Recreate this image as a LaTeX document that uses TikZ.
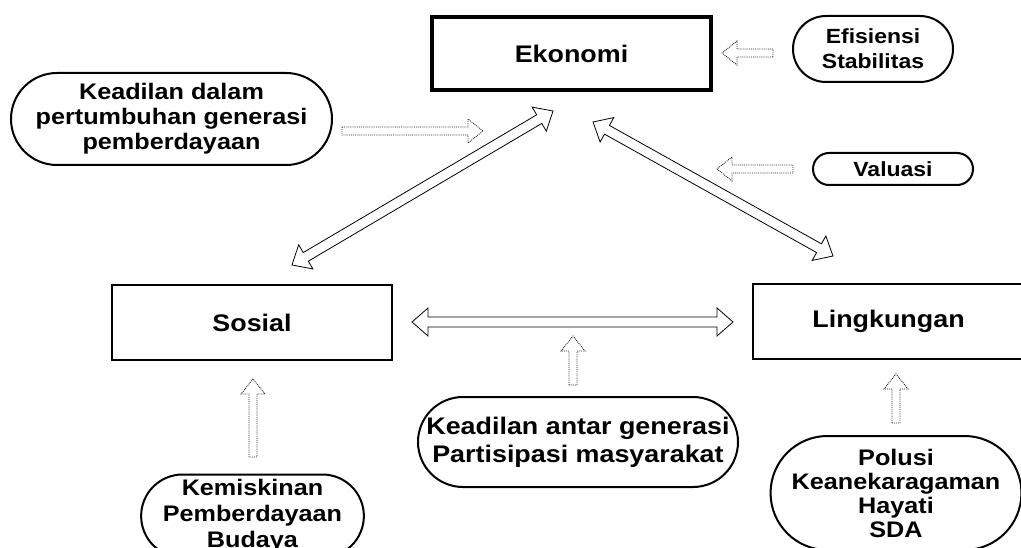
\documentclass[tikz,border=0pt]{standalone}
\usepackage{fontspec}
\setmainfont{Liberation Sans}[FakeStretch=1.12]
\usetikzlibrary{calc,shapes.misc}
\def\singlearrow[#1](#2)(#3){\draw[#1] ($(#2)!4pt!90:(#3)$) -- ($(#3)!15pt!(#2)!4pt!90:(#3)$) -- ($(#3)!15pt!(#2)!12pt!90:(#3)$) -- (#3) -- ($(#3)!15pt!(#2)!12pt!-90:(#3)$) -- ($(#3)!15pt!(#2)!4pt!-90:(#3)$) -- ($(#2)!4pt!-90:(#3)$) -- cycle;}
\def\doublearrow[#1](#2)(#3){\draw[#1] (#2) -- ($(#2)!16pt!(#3)!14pt!90:(#3)$) -- ($(#2)!16pt!(#3)!5pt!90:(#3)$) -- ($(#3)!16pt!(#2)!5pt!90:(#3)$) -- ($(#3)!16pt!(#2)!14pt!90:(#3)$) -- (#3) -- ($(#3)!16pt!(#2)!14pt!-90:(#3)$) -- ($(#3)!16pt!(#2)!5pt!-90:(#3)$) -- ($(#2)!16pt!(#3)!5pt!-90:(#3)$) -- ($(#2)!16pt!(#3)!14pt!-90:(#3)$) -- cycle;}

\begin{document}
\begin{tikzpicture}[x=1pt, y=-1pt,
		box/.style={draw, line width=2pt, align=center, inner sep=0pt, font=\bfseries\fontsize{24}{27}\selectfont},
		pill/.style={draw, rounded rectangle, line width=2pt, align=center, inner sep=0pt},
		feed/.style={draw=black!85, line width=0.9pt, densely dotted, fill=white},
		link/.style={draw=black, line width=0.8pt, fill=white}]
		%%%%% START %%%%%
		
		\useasboundingbox (0, 0) rectangle (1021, 548);
		
		\node[box, line width=4pt, minimum width=279, minimum height=73] (ekonomi) at (571.5, 53.5) {Ekonomi};
		\node[box, minimum width=280, minimum height=75] (sosial) at (252, 322.5) {Sosial};
		\node[box, minimum width=271, minimum height=75] (lingkungan) at (888.5, 321.5) {Lingkungan};
		
		\node[pill, minimum width=160, minimum height=66, font=\bfseries\fontsize{20.5}{25}\selectfont] (efisiensi) at (873, 49) {Efisiensi\\Stabilitas};
		\node[pill, minimum width=160, minimum height=32, font=\bfseries\fontsize{20.5}{25}\selectfont] (valuasi) at (893, 169) {Valuasi};
		\node[pill, minimum width=321, minimum height=92, font=\bfseries\fontsize{22.5}{25}\selectfont] (dalam) at (171.5, 119) {Keadilan dalam\\pertumbuhan generasi\\pemberdayaan};
		\node[pill, minimum width=320, minimum height=90, font=\bfseries\fontsize{24}{28}\selectfont] (antar) at (578, 442) {Keadilan antar generasi\\Partisipasi masyarakat};
		\node[pill, minimum width=199, minimum height=83, font=\bfseries\fontsize{22.5}{26}\selectfont] (kemiskinan) at (252.5, 516) {Kemiskinan\\Pemberdayaan\\Budaya};
		\node[pill, minimum width=230, minimum height=114, font=\bfseries\fontsize{22.5}{24}\selectfont] (polusi) at (896, 493) {Polusi\\Keanekaragaman\\Hayati\\SDA};
		
		% ends of the hollow arrows
		\coordinate (ef-a) at (773, 53);   \coordinate (ef-b) at (722, 53);
		\coordinate (va-a) at (793, 169);  \coordinate (va-b) at (717, 169);
		\coordinate (da-a) at (342, 131);  \coordinate (da-b) at (483, 131);
		\coordinate (an-a) at (573, 385);  \coordinate (an-b) at (573, 336);
		\coordinate (ke-a) at (253, 457);  \coordinate (ke-b) at (253, 379);
		\coordinate (po-a) at (896, 423);  \coordinate (po-b) at (896, 374);
		\coordinate (so-ek) at (292, 265); \coordinate (ek-so) at (553, 111);
		\coordinate (ek-li) at (593, 122); \coordinate (li-ek) at (833, 256);
		\coordinate (so-li) at (412, 322); \coordinate (li-so) at (733, 322);
		
		\doublearrow[link](so-ek)(ek-so);
		\doublearrow[link](ek-li)(li-ek);
		\doublearrow[link](so-li)(li-so);
		
		\singlearrow[feed](ef-a)(ef-b);
		\singlearrow[feed](va-a)(va-b);
		\singlearrow[feed](da-a)(da-b);
		\singlearrow[feed](an-a)(an-b);
		\singlearrow[feed](ke-a)(ke-b);
		\singlearrow[feed](po-a)(po-b);
		
		%%%%% END %%%%%
\end{tikzpicture}
\end{document}
